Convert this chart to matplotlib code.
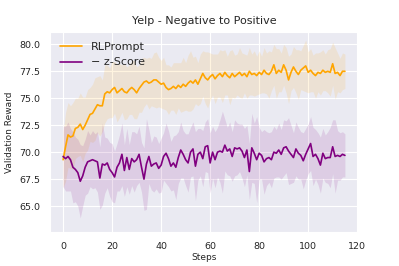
import numpy as np
import matplotlib
matplotlib.use("Agg")
import matplotlib.pyplot as plt
import seaborn as sns

# values
steps = list(range(116))

rlprompt_mean = [
    69.3, 70.5, 71.6, 71.4, 71.5, 72.2, 72.3, 72.6, 72.1, 72.5,
    73.0, 73.5, 73.6, 74.0, 74.4, 74.3, 74.3, 75.4, 75.6, 75.5,
    75.8, 76.0, 75.5, 75.7, 75.9, 75.6, 75.5, 75.8, 76.0, 75.8,
    75.5, 75.9, 76.2, 76.5, 76.6, 76.4, 76.5, 76.7, 76.7, 76.5,
    76.3, 76.4, 76.0, 75.8, 75.9, 76.1, 75.9, 76.2, 76.0, 76.3,
    76.1, 76.4, 76.6, 76.4, 76.7, 76.3, 76.8, 77.3, 76.9, 76.7,
    77.0, 77.2, 76.8, 77.1, 77.3, 77.0, 77.4, 77.1, 76.9, 77.3,
    77.0, 77.2, 77.4, 77.1, 77.3, 77.0, 77.5, 77.2, 77.3, 77.1,
    77.4, 77.2, 77.6, 77.3, 77.2, 77.5, 78.1, 77.3, 77.6, 77.4,
    78.1, 77.6, 76.7, 77.4, 77.9, 77.5, 77.2, 77.6, 77.8, 78.0,
    77.4, 77.6, 77.3, 77.1, 77.4, 77.3, 77.6, 77.4, 77.5, 77.4,
    78.2, 77.3, 77.4, 77.1, 77.5, 77.5,
]
rlprompt_std = [
    2.6, 3.2, 3.0, 2.9, 3.1, 2.8, 2.7, 2.9, 3.0, 2.6,
    2.8, 2.5, 2.7, 2.9, 2.6, 2.8, 2.4, 2.7, 2.5, 2.3,
    2.6, 2.4, 2.7, 2.5, 2.2, 2.6, 2.4, 2.3, 2.5, 2.7,
    2.4, 2.2, 2.5, 2.3, 2.1, 2.4, 2.2, 2.5, 2.6, 2.3,
    2.2, 2.4, 2.1, 2.3, 2.0, 2.2, 2.4, 2.1, 2.3, 2.5,
    2.2, 2.6, 2.8, 2.4, 2.2, 2.0, 2.3, 2.1, 2.4, 2.6,
    2.2, 1.9, 2.3, 2.0, 2.2, 2.4, 2.1, 1.8, 2.5, 2.2,
    2.0, 1.9, 2.3, 2.1, 1.8, 2.0, 2.2, 1.9, 2.1, 1.8,
    2.0, 1.7, 2.1, 1.9, 2.2, 1.8, 1.9, 2.3, 2.0, 1.8,
    1.9, 2.1, 2.2, 1.7, 1.9, 2.0, 2.3, 1.8, 2.1, 2.4,
    1.9, 2.0, 1.7, 2.1, 1.8, 2.0, 1.9, 1.7, 2.0, 2.2,
    2.0, 2.4, 1.8, 1.6, 1.7, 1.6,
]

zscore_mean = [
    69.6, 69.4, 69.6, 69.3, 68.6, 68.4, 68.1, 67.3, 67.8, 68.6,
    69.1, 69.2, 69.3, 69.2, 69.1, 67.6, 68.9, 68.8, 69.0, 68.4,
    68.1, 67.7, 68.6, 69.0, 69.8, 68.3, 69.5, 68.4, 69.4, 69.1,
    69.3, 69.8, 68.6, 67.5, 68.9, 69.6, 68.7, 68.9, 69.0, 68.5,
    68.8, 69.6, 69.9, 69.4, 68.7, 69.0, 68.6, 69.5, 70.2, 69.8,
    69.3, 69.0, 70.0, 70.3, 68.7, 69.8, 70.0, 69.4, 70.5, 70.6,
    69.0, 70.0, 69.3, 70.0, 70.1, 70.0, 70.65, 70.1, 70.3, 69.6,
    70.4, 70.3, 70.4, 70.1, 69.5, 70.2, 68.2, 70.4, 69.9, 69.3,
    69.9, 69.7, 69.1, 69.4, 69.5, 69.3, 70.0, 69.9, 70.2, 69.8,
    70.4, 70.5, 70.1, 69.8, 69.5, 70.3, 69.9, 69.7, 69.2, 69.8,
    70.3, 70.8, 69.6, 69.8, 69.4, 68.8, 69.9, 69.4, 69.5, 69.5,
    70.5, 69.6, 69.7, 69.6, 69.8, 69.7,
]
zscore_std = [
    2.8, 3.0, 3.2, 2.9, 3.3, 3.0, 3.1, 3.4, 2.8, 2.6,
    2.9, 2.4, 2.7, 2.5, 2.8, 2.9, 3.8, 2.6, 2.3, 2.5,
    2.7, 2.4, 2.2, 2.6, 2.9, 2.4, 2.7, 2.3, 2.5, 2.8,
    2.4, 2.6, 2.3, 2.9, 4.2, 2.5, 2.2, 2.6, 2.4, 2.3,
    2.5, 2.2, 2.8, 2.6, 2.3, 2.5, 3.0, 2.4, 2.6, 2.2,
    2.4, 2.7, 2.3, 2.5, 3.2, 2.4, 2.2, 2.6, 2.3, 2.5,
    2.8, 2.4, 2.6, 2.3, 2.9, 3.8, 2.4, 2.2, 2.5, 2.3,
    2.6, 2.4, 2.2, 2.5, 2.7, 2.3, 2.6, 3.2, 2.8, 4.0,
    2.4, 2.2, 3.0, 2.5, 2.3, 2.6, 2.4, 2.2, 2.5, 2.3,
    2.6, 2.4, 3.1, 2.7, 2.3, 2.5, 2.4, 2.2, 2.6, 2.4,
    2.3, 2.5, 2.7, 2.3, 2.4, 2.6, 2.3, 2.2, 2.4, 2.8,
    2.5, 3.4, 2.3, 2.2, 2.1, 2.0,
]

sns.set_style("darkgrid")

fig = plt.figure(figsize=(3.99, 2.66), dpi=100)
ax = fig.add_axes([0.125, 0.128, 0.772, 0.752])

x = np.array(steps)
for mean, std, color, label in [
    (rlprompt_mean, rlprompt_std, "orange", "RLPrompt"),
    (zscore_mean, zscore_std, "purple", "\u2212 z-Score"),
]:
    mean = np.array(mean)
    std = np.array(std)
    ax.plot(x, mean, color=color, linewidth=1.2, label=label)
    ax.fill_between(x, mean - std, mean + std, color=color, alpha=0.12, linewidth=0)

ax.set_xlim(-5.4, 120.3)
ax.set_ylim(62.6, 81.15)
ax.set_yticks([65.0, 67.5, 70.0, 72.5, 75.0, 77.5, 80.0])
ax.set_xticks([0, 20, 40, 60, 80, 100, 120])
ax.tick_params(labelsize=6.8)
ax.set_title("Yelp - Negative to Positive", fontsize=8)
ax.set_xlabel("Steps", fontsize=6.5, labelpad=2)
ax.set_ylabel("Validation Reward", fontsize=6.5)
ax.legend(loc="upper left", fontsize=8, frameon=False)

fig.savefig("out.png", dpi=100)
